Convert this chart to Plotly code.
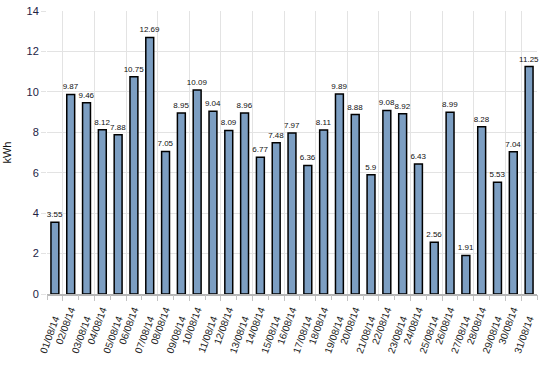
import plotly.graph_objects as go

dates = ["01/08/14", "02/08/14", "03/08/14", "04/08/14", "05/08/14", "06/08/14", "07/08/14",
         "08/08/14", "09/08/14", "10/08/14", "11/08/14", "12/08/14", "13/08/14", "14/08/14",
         "15/08/14", "16/08/14", "17/08/14", "18/08/14", "19/08/14", "20/08/14", "21/08/14",
         "22/08/14", "23/08/14", "24/08/14", "25/08/14", "26/08/14", "27/08/14", "28/08/14",
         "29/08/14", "30/08/14", "31/08/14"]
kwh = [3.55, 9.87, 9.46, 8.12, 7.88, 10.75, 12.69, 7.05, 8.95, 10.09, 9.04, 8.09, 8.96, 6.77,
       7.48, 7.97, 6.36, 8.11, 9.89, 8.88, 5.9, 9.08, 8.92, 6.43, 2.56, 8.99, 1.91, 8.28,
       5.53, 7.04, 11.25]
y_ticks = [0, 2, 4, 6, 8, 10, 12, 14]

# staggered tick labels: even days on the main axis, odd days on an overlay axis further down
upper_labels = dates[1::2]
lower_labels = dates[0::2]

fig = go.Figure()
fig.add_trace(go.Bar(
    x=dates, y=kwh,
    width=0.5,
    marker=dict(color="#7c9ec2", line=dict(color="#000000", width=1.5)),
    text=[f"{v:g}" for v in kwh],
    textposition="outside",
    textfont=dict(family="Liberation Sans, Arial", size=8, color="#111111"),
    constraintext="none",
    cliponaxis=False,
    hoverinfo="x+y",
))
# invisible carrier so the overlay axis knows the categories
fig.add_trace(go.Scatter(
    x=dates, y=kwh, xaxis="x2", mode="markers",
    marker=dict(opacity=0), hoverinfo="skip", showlegend=False,
))

tick_font = dict(family="Liberation Sans, Arial", size=10, color="#222222")
common_x = dict(
    type="category", automargin=False,
    categoryorder="array", categoryarray=dates,
    tickmode="array", tickangle=-70,
    tickson="boundaries",
    ticks="outside", ticklen=5, tickcolor="#c4c4c4", tickwidth=1,
    tickfont=tick_font,
    range=[-0.5, 30.5],
)

fig.update_layout(
    width=546, height=365,
    margin=dict(l=47, r=9, t=11, b=71),
    paper_bgcolor="white", plot_bgcolor="white",
    showlegend=False,
    font=dict(family="Liberation Sans, Arial", size=10, color="#222222"),
    xaxis=dict(
        **common_x,
        tickvals=upper_labels,
        showgrid=True, gridcolor="#e3e3e3", gridwidth=1,
        showline=True, linecolor="#b5b5b5", linewidth=2,
        ticklabelstandoff=4,
    ),
    xaxis2=dict(
        **common_x,
        overlaying="x", side="bottom", anchor="y",
        tickvals=lower_labels,
        showgrid=False, showline=False,
        ticklabelstandoff=16,
    ),
    yaxis=dict(
        range=[0, 14], tickvals=y_ticks, automargin=False,
        showgrid=True, gridcolor="#e3e3e3", gridwidth=1,
        zeroline=False, showline=False,
        ticks="outside", ticklen=5, tickcolor="#e3e3e3",
        tickfont=dict(size=11, color="#222244"),
        title=dict(text="kWh", font=dict(size=11, color="#111111"), standoff=12),
    ),
)

fig.write_html("out.html", config={"displayModeBar": False},
               post_script="document.body.style.margin='0';")
